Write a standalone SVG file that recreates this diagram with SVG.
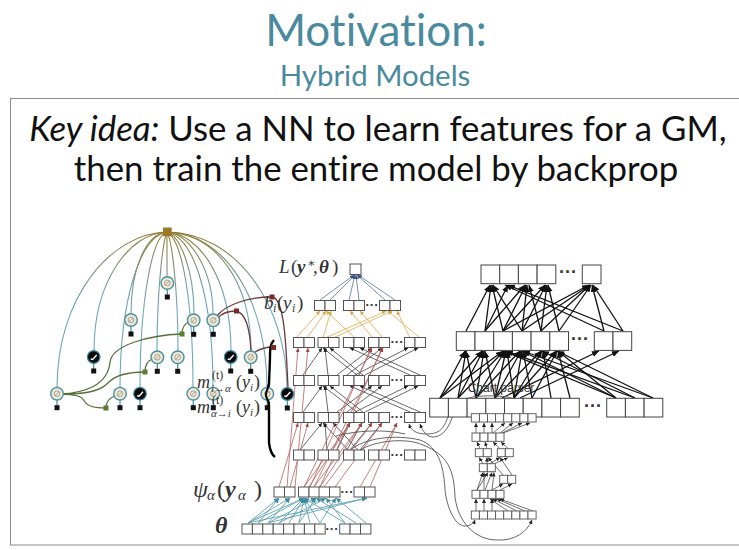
<svg xmlns="http://www.w3.org/2000/svg" width="739" height="550" viewBox="0 0 739 550">
<style>
.t{font-family:"Lato","Open Sans","Liberation Sans",sans-serif;fill:#4a8a9e;text-anchor:middle;font-variant-ligatures:none}
.b{font-family:"Lato","Open Sans","Liberation Sans",sans-serif;fill:#111;font-size:34.8px;text-anchor:middle;font-variant-ligatures:none}
.m{font-family:"Liberation Serif","DejaVu Serif",serif;font-style:italic;fill:#333}
.mb{font-weight:bold}
.d{font-family:"Liberation Sans",sans-serif;font-weight:bold;fill:#333;font-size:13px;text-anchor:middle}
.bx rect{fill:#fff;stroke:#555;stroke-width:1}
.rx rect{fill:#fff;stroke:#444;stroke-width:1}
.px rect{fill:#fff;stroke:#555;stroke-width:.9}
.hub path{fill:none;stroke:url(#hg);stroke-width:1.1}
.ol{fill:none;stroke:#56703a;stroke-width:1.3}
.rd{fill:none;stroke:#6b3a3a;stroke-width:1.3}
.sqo{fill:#5f7a35}.sqr{fill:#7a2a26}
.gold line{stroke:#e0b35a;stroke-width:.9;marker-end:url(#ag)}
.blue line{stroke:#6b80aa;stroke-width:.9;marker-end:url(#au)}
.blk line{stroke:#444;stroke-width:.8;marker-end:url(#ak)}
.red line{stroke:#b4615f;stroke-width:.8;marker-end:url(#ar)}
.teal line{stroke:#62a3b3;stroke-width:.9;marker-end:url(#at)}
.big line{stroke:#111;stroke-width:1.3;marker-end:url(#ab)}
.par line{stroke:#333;stroke-width:.7;marker-end:url(#ak)}
.crv path{fill:none;stroke:#555;stroke-width:.9}
.crv path.a{marker-end:url(#ak)}
</style>
<defs>
<linearGradient id="hg" gradientUnits="userSpaceOnUse" x1="0" y1="232" x2="0" y2="300"><stop offset="0" stop-color="#8f7d34"/><stop offset="1" stop-color="#6ca6b6"/></linearGradient>
<marker id="ag" markerUnits="userSpaceOnUse" markerWidth="5" markerHeight="5" refX="4" refY="2" orient="auto"><path d="M0,0L4,2L0,4Z" fill="#d9a63f"/></marker>
<marker id="au" markerUnits="userSpaceOnUse" markerWidth="5" markerHeight="5" refX="4" refY="2" orient="auto"><path d="M0,0L4,2L0,4Z" fill="#3f5486"/></marker>
<marker id="ak" markerUnits="userSpaceOnUse" markerWidth="5" markerHeight="5" refX="4" refY="2" orient="auto"><path d="M0,0L4,2L0,4Z" fill="#222"/></marker>
<marker id="ar" markerUnits="userSpaceOnUse" markerWidth="5" markerHeight="5" refX="4" refY="2" orient="auto"><path d="M0,0L4,2L0,4Z" fill="#a8423f"/></marker>
<marker id="at" markerUnits="userSpaceOnUse" markerWidth="6" markerHeight="6" refX="5" refY="2.500" orient="auto"><path d="M0,0L5,2.500L0,5Z" fill="#3f8ba0"/></marker>
<marker id="ab" markerUnits="userSpaceOnUse" markerWidth="8" markerHeight="8" refX="7" refY="3" orient="auto"><path d="M0,0L7,3L0,6Z" fill="#111"/></marker>
<g id="v"><line y1="6" y2="12" stroke="#3f8aa0" stroke-width="1.2"/><circle r="6.3" fill="#efe8d3" stroke="#4a90a5" stroke-width="1.4"/><circle r="2.8" fill="none" stroke="#888" stroke-width=".7"/><line x1="-2" y1="2" x2="2" y2="-2" stroke="#888" stroke-width=".7"/><rect x="-2.500" y="11.500" width="5" height="5" fill="#111"/></g>
<g id="c"><line y1="6" y2="12" stroke="#3f8aa0" stroke-width="1.2"/><circle r="6.3" fill="#0a0a0a" stroke="#3f8aa0" stroke-width="1.2"/><path d="M-3,2L-1,2.500L3,-2" fill="none" stroke="#fff" stroke-width="1.4"/><rect x="-2.500" y="11.500" width="5" height="5" fill="#111"/></g>
</defs>
<rect width="739" height="550" fill="#fff"/>
<rect id="frame" x="10.500" y="98.500" width="740" height="446.500" fill="none" stroke="#8a8a8a" stroke-width="1"/>
<g id="title">
<text class="t" x="376" y="46" font-size="44">Motivation:</text>
<text class="t" x="375" y="86" font-size="29.400">Hybrid Models</text>
</g>
<g id="body">
<text class="b" x="378" y="141"><tspan font-style="italic">Key idea:</tspan> Use a NN to learn features for a GM,</text>
<text class="b" x="376" y="181">then train the entire model by backprop</text>
</g>

<g id="connectors">
<g class="hub">
<path d="M167,232C112,233 57,296 57,388"/><path d="M167,232C130,233 94,280 94,351"/><path d="M167,232C145,234 131,270 131,314"/><path d="M167,232C140,236 120,300 120,388"/><path d="M167,232C152,236 140,300 140,388"/><path d="M167,232V277"/><path d="M167,232C163,240 157,290 157,351"/><path d="M167,232C172,240 178,290 178,351"/><path d="M167,232C180,236 194,270 194,314"/><path d="M167,232C182,240 193,300 193,388"/><path d="M167,232C190,234 213,270 213,314"/><path d="M167,232C195,238 213,300 213,388"/><path d="M167,232C200,234 231,280 231,351"/><path d="M167,232C215,234 251,280 251,351"/><path d="M167,232C225,233 267,300 267,388"/><path d="M167,232C240,233 287,310 287,388"/>
</g>
<path class="ol" d="M60,394C85,393 108,385 110,362C112,345 150,335 182,334"/>
<path class="ol" d="M60,394C85,394 100,392 109,382C116,375 130,372 145,372"/>
<path class="ol" d="M60,394C75,394 82,396 85,402C88,407 96,408 106,408"/>
<path class="ol" d="M182,334C182,328 184,324 189,322"/>
<path class="ol" d="M145,372C145,365 148,361 152,359"/>
<path class="ol" d="M106,408C106,402 109,398 115,396"/>
<path class="rd" d="M217,316C226,304 250,297 272,297"/>
<path class="rd" d="M218,318C222,313 228,311 236,311"/>
<path class="rd" d="M236,311C246,313 250,330 251,351"/>
<path class="rd" d="M272,297C284,298 286,340 288,388"/>
<path class="rd" d="M255,352C260,349 266,347 273,347"/>
<path d="M274,340C270,344 270,350 270,358L269,384C268,390 265,392 266,396C267,400 269,400 269,406V443C270,450 272,455 275,457" fill="none" stroke="#000" stroke-width="2.400"/>
<rect class="sqo" x="179.500" y="331.500" width="5" height="5"/><rect class="sqo" x="142.500" y="369.500" width="5" height="5"/><rect class="sqo" x="103.500" y="405.500" width="5" height="5"/>
<rect class="sqr" x="269.500" y="294.500" width="5" height="5"/><rect class="sqr" x="234" y="308.500" width="5" height="5"/><rect class="sqr" x="271" y="345" width="5" height="5"/>

<g class="blue"><line x1="320" y1="300" x2="354" y2="275"/><line x1="330" y1="300" x2="355" y2="275"/><line x1="349" y1="300" x2="355" y2="275"/><line x1="359" y1="300" x2="356" y2="275"/><line x1="385" y1="300" x2="357" y2="275"/><line x1="395" y1="300" x2="358" y2="275"/></g>
<g class="gold"><line x1="296" y1="338" x2="320" y2="311"/><line x1="307" y1="338" x2="326" y2="311"/><line x1="325" y1="338" x2="386" y2="311"/><line x1="333" y1="338" x2="392" y2="311"/><line x1="355" y1="338" x2="326" y2="311"/><line x1="373" y1="338" x2="350" y2="311"/><line x1="383" y1="338" x2="360" y2="311"/><line x1="410" y1="338" x2="397" y2="311"/><line x1="420" y1="338" x2="388" y2="311"/><line x1="323" y1="338" x2="331" y2="311"/></g>
<g class="blk">
<line x1="303" y1="375" x2="322" y2="348"/><line x1="328" y1="375" x2="325" y2="348"/><line x1="357" y1="375" x2="323" y2="348"/><line x1="363" y1="375" x2="330" y2="348"/><line x1="410" y1="375" x2="350" y2="348"/><line x1="420" y1="375" x2="360" y2="348"/><line x1="355" y1="375" x2="408" y2="348"/><line x1="365" y1="375" x2="418" y2="348"/><line x1="337" y1="375" x2="372" y2="348"/><line x1="347" y1="375" x2="382" y2="348"/>
<line x1="303" y1="412" x2="322" y2="386"/><line x1="328" y1="412" x2="325" y2="386"/><line x1="357" y1="412" x2="323" y2="386"/><line x1="363" y1="412" x2="330" y2="386"/><line x1="410" y1="412" x2="350" y2="386"/><line x1="420" y1="412" x2="360" y2="386"/><line x1="355" y1="412" x2="408" y2="386"/><line x1="365" y1="412" x2="418" y2="386"/><line x1="337" y1="412" x2="372" y2="386"/><line x1="347" y1="412" x2="382" y2="386"/>
<line x1="300" y1="450" x2="322" y2="423"/><line x1="327" y1="450" x2="325" y2="423"/><line x1="348" y1="450" x2="323" y2="423"/><line x1="358" y1="450" x2="333" y2="423"/><line x1="337" y1="450" x2="350" y2="423"/><line x1="347" y1="450" x2="362" y2="423"/><line x1="350" y1="450" x2="372" y2="423"/><line x1="360" y1="450" x2="382" y2="423"/>
</g>
<g class="red">
<line x1="279" y1="487" x2="298" y2="423"/><line x1="290" y1="487" x2="308" y2="423"/><line x1="287" y1="487" x2="298" y2="348"/><line x1="295" y1="487" x2="308" y2="348"/>
<line x1="304" y1="487" x2="350" y2="423"/><line x1="314" y1="487" x2="362" y2="423"/><line x1="324" y1="487" x2="372" y2="423"/><line x1="335" y1="487" x2="382" y2="423"/><line x1="309" y1="487" x2="350" y2="423"/><line x1="320" y1="487" x2="362" y2="423"/><line x1="360" y1="487" x2="397" y2="423"/><line x1="370" y1="487" x2="397" y2="423"/>
<line x1="304" y1="487" x2="372" y2="348"/><line x1="314" y1="487" x2="383" y2="348"/><line x1="310" y1="487" x2="371" y2="348"/><line x1="320" y1="487" x2="382" y2="348"/>
</g>
<g class="teal">
<line x1="248" y1="523" x2="279" y2="498"/><line x1="248" y1="523" x2="290" y2="498"/><line x1="248" y1="523" x2="304" y2="498"/><line x1="248" y1="523" x2="367" y2="498"/><line x1="258" y1="523" x2="279" y2="498"/><line x1="258" y1="523" x2="304" y2="498"/><line x1="268" y1="523" x2="290" y2="498"/><line x1="268" y1="523" x2="316" y2="498"/><line x1="268" y1="523" x2="367" y2="498"/><line x1="279" y1="523" x2="304" y2="498"/><line x1="279" y1="523" x2="326" y2="498"/><line x1="289" y1="523" x2="304" y2="498"/><line x1="299" y1="523" x2="304" y2="498"/><line x1="299" y1="523" x2="316" y2="498"/><line x1="310" y1="523" x2="304" y2="498"/><line x1="320" y1="523" x2="304" y2="498"/><line x1="320" y1="523" x2="336" y2="498"/><line x1="345" y1="523" x2="304" y2="498"/><line x1="345" y1="523" x2="326" y2="498"/><line x1="356" y1="523" x2="316" y2="498"/><line x1="366" y1="523" x2="336" y2="498"/>
</g>
<g class="big">
<line x1="466" y1="331" x2="490" y2="285"/><line x1="485" y1="331" x2="491" y2="285"/><line x1="485" y1="331" x2="508" y2="285"/><line x1="503" y1="331" x2="492" y2="285"/><line x1="522" y1="331" x2="493" y2="285"/><line x1="503" y1="331" x2="526" y2="285"/><line x1="522" y1="331" x2="527" y2="285"/><line x1="541" y1="331" x2="529" y2="285"/><line x1="485" y1="331" x2="525" y2="285"/><line x1="503" y1="331" x2="545" y2="285"/><line x1="522" y1="331" x2="546" y2="285"/><line x1="541" y1="331" x2="547" y2="285"/><line x1="559" y1="331" x2="548" y2="285"/><line x1="604" y1="331" x2="505" y2="285"/><line x1="623" y1="331" x2="508" y2="285"/><line x1="503" y1="331" x2="589" y2="285"/><line x1="522" y1="331" x2="590" y2="285"/><line x1="541" y1="331" x2="590" y2="285"/><line x1="559" y1="331" x2="591" y2="285"/><line x1="604" y1="331" x2="592" y2="285"/><line x1="623" y1="331" x2="593" y2="285"/>
<line x1="440" y1="398" x2="465" y2="351"/><line x1="458" y1="398" x2="466" y2="351"/><line x1="476" y1="398" x2="466" y2="351"/><line x1="440" y1="398" x2="482" y2="351"/><line x1="458" y1="398" x2="483" y2="351"/><line x1="476" y1="398" x2="484" y2="351"/><line x1="495" y1="398" x2="485" y2="351"/><line x1="440" y1="398" x2="503" y2="351"/><line x1="458" y1="398" x2="504" y2="351"/><line x1="476" y1="398" x2="505" y2="351"/><line x1="495" y1="398" x2="506" y2="351"/><line x1="514" y1="398" x2="507" y2="351"/><line x1="476" y1="398" x2="520" y2="351"/><line x1="495" y1="398" x2="521" y2="351"/><line x1="514" y1="398" x2="522" y2="351"/><line x1="532" y1="398" x2="523" y2="351"/><line x1="495" y1="398" x2="541" y2="351"/><line x1="514" y1="398" x2="542" y2="351"/><line x1="551" y1="398" x2="543" y2="351"/><line x1="514" y1="398" x2="556" y2="351"/><line x1="532" y1="398" x2="557" y2="351"/><line x1="570" y1="398" x2="558" y2="351"/><line x1="616" y1="398" x2="504" y2="351"/><line x1="616" y1="398" x2="522" y2="351"/><line x1="635" y1="398" x2="506" y2="351"/><line x1="635" y1="398" x2="542" y2="351"/><line x1="653" y1="398" x2="523" y2="351"/><line x1="653" y1="398" x2="557" y2="351"/><line x1="616" y1="398" x2="558" y2="351"/><line x1="502" y1="398" x2="599" y2="351"/><line x1="520" y1="398" x2="619" y2="351"/>
</g>
<g class="par">
<line x1="476" y1="433" x2="476" y2="423"/><line x1="484" y1="433" x2="484" y2="423"/><line x1="492" y1="433" x2="492" y2="423"/><line x1="493" y1="433" x2="505" y2="423"/><line x1="500" y1="433" x2="513" y2="423"/><line x1="502" y1="433" x2="522" y2="423"/><line x1="503" y1="433" x2="530" y2="423"/>
<line x1="480" y1="448.500" x2="477" y2="442"/><line x1="487" y1="448.500" x2="485" y2="442"/><line x1="500" y1="448.500" x2="493" y2="442"/><line x1="508" y1="448.500" x2="501" y2="442"/>
<line x1="483" y1="463.500" x2="479" y2="457.500"/><line x1="487" y1="463.500" x2="487" y2="457.500"/><line x1="490" y1="463.500" x2="500" y2="457.500"/><line x1="495" y1="463.500" x2="508" y2="457.500"/><line x1="503" y1="475" x2="488" y2="457.500"/><line x1="512" y1="475" x2="500" y2="457.500"/>
<line x1="477" y1="490" x2="483" y2="472.500"/><line x1="477" y1="490" x2="488" y2="472.500"/><line x1="484" y1="490" x2="484" y2="472.500"/><line x1="485" y1="490" x2="492" y2="472.500"/><line x1="492" y1="490" x2="494" y2="472.500"/><line x1="492" y1="490" x2="503" y2="484"/><line x1="500" y1="490" x2="512" y2="484"/>
<line x1="476" y1="511" x2="476" y2="499"/><line x1="484" y1="511" x2="484" y2="499"/><line x1="492" y1="511" x2="492" y2="499"/><line x1="533" y1="511" x2="500" y2="499"/><line x1="525" y1="511" x2="497" y2="499"/><line x1="517" y1="511" x2="493" y2="499"/><line x1="508" y1="511" x2="490" y2="499"/>
</g>
<g class="crv">
<path d="M472,413C466,405 455,405 450,413C445,420 446,434 427,434C415,434 411,430 409,424" class="a"/>
<path d="M533,414C526,398 505,395 483,396C462,397 458,402 452,418C447,432 440,437 433,437C427,437 423,432 420,424" class="a"/>
<path d="M350,450C365,438 395,434 420,440C440,447 444,470 445,490C447,508 455,526 465,526C470,526 474,523 475,520" class="a"/>
<path d="M360,450C375,441 405,437 423,445C448,455 454,470 455,497C458,522 475,540 497,540C515,541 527,532 532,520" class="a"/>
<path d="M336,436C350,432 380,428 405,434"/>
</g>
</g>

<g id="middle-network">
<g id="loss" class="bx"><rect x="350" y="264" width="11" height="10.500"/></g>
<g id="row-b" class="bx"><rect x="314.500" y="300.500" width="10.500" height="10"/><rect x="325" y="300.500" width="10.500" height="10"/><rect x="343.500" y="300.500" width="10.500" height="10"/><rect x="354" y="300.500" width="10.500" height="10"/><rect x="379.500" y="300.500" width="10.500" height="10"/><rect x="390" y="300.500" width="10.500" height="10"/></g>
<g id="row-1" class="bx"><rect x="293.500" y="337.500" width="10.500" height="10"/><rect x="304" y="337.500" width="10.500" height="10"/><rect x="318" y="337.500" width="10.500" height="10"/><rect x="328.500" y="337.500" width="10.500" height="10"/><rect x="343.500" y="337.500" width="10.500" height="10"/><rect x="354" y="337.500" width="10.500" height="10"/><rect x="368.500" y="337.500" width="10.500" height="10"/><rect x="379" y="337.500" width="10.500" height="10"/><rect x="404.500" y="337.500" width="10.500" height="10"/><rect x="415" y="337.500" width="10.500" height="10"/></g>
<g id="row-2" class="bx"><rect x="293.500" y="375.500" width="10.500" height="10"/><rect x="304" y="375.500" width="10.500" height="10"/><rect x="318" y="375.500" width="10.500" height="10"/><rect x="328.500" y="375.500" width="10.500" height="10"/><rect x="343.500" y="375.500" width="10.500" height="10"/><rect x="354" y="375.500" width="10.500" height="10"/><rect x="368.500" y="375.500" width="10.500" height="10"/><rect x="379" y="375.500" width="10.500" height="10"/><rect x="404.500" y="375.500" width="10.500" height="10"/><rect x="415" y="375.500" width="10.500" height="10"/></g>
<g id="row-3" class="bx"><rect x="293.500" y="412.500" width="10.500" height="10"/><rect x="304" y="412.500" width="10.500" height="10"/><rect x="318" y="412.500" width="10.500" height="10"/><rect x="328.500" y="412.500" width="10.500" height="10"/><rect x="343.500" y="412.500" width="10.500" height="10"/><rect x="354" y="412.500" width="10.500" height="10"/><rect x="368.500" y="412.500" width="10.500" height="10"/><rect x="379" y="412.500" width="10.500" height="10"/><rect x="404.500" y="412.500" width="10.500" height="10"/><rect x="415" y="412.500" width="10.500" height="10"/></g>
<g id="row-4" class="bx"><rect x="293.500" y="450" width="10.500" height="10"/><rect x="304" y="450" width="10.500" height="10"/><rect x="318" y="450" width="10.500" height="10"/><rect x="328.500" y="450" width="10.500" height="10"/><rect x="343.500" y="450" width="10.500" height="10"/><rect x="354" y="450" width="10.500" height="10"/><rect x="368.500" y="450" width="10.500" height="10"/><rect x="379" y="450" width="10.500" height="10"/><rect x="404.500" y="450" width="10.500" height="10"/><rect x="415" y="450" width="10.500" height="10"/></g>
<g id="psi-row" class="bx"><rect x="274" y="487" width="10.500" height="10"/><rect x="284.500" y="487" width="10.500" height="10"/><rect x="298.500" y="487" width="10.500" height="10"/><rect x="309" y="487" width="10.500" height="10"/><rect x="319" y="487" width="10.500" height="10"/><rect x="329.500" y="487" width="10.500" height="10"/><rect x="354" y="487" width="10.500" height="10"/><rect x="364.500" y="487" width="10.500" height="10"/></g>
<g id="theta-row" class="bx"><rect x="242" y="524" width="10.400" height="10"/><rect x="252.400" y="524" width="10.400" height="10"/><rect x="262.800" y="524" width="10.400" height="10"/><rect x="273.200" y="524" width="10.400" height="10"/><rect x="283.600" y="524" width="10.400" height="10"/><rect x="294" y="524" width="10.400" height="10"/><rect x="304.400" y="524" width="10.400" height="10"/><rect x="314.800" y="524" width="10.400" height="10"/><rect x="339.700" y="524" width="10.400" height="10"/><rect x="350.100" y="524" width="10.400" height="10"/><rect x="360.500" y="524" width="10.400" height="10"/></g>
<g id="dots-mid"><text class="d" x="372" y="309">···</text><text class="d" x="397" y="346">···</text><text class="d" x="397" y="384">···</text><text class="d" x="397" y="421">···</text><text class="d" x="397" y="459">···</text><text class="d" x="347" y="496">···</text><text class="d" x="332" y="533">···</text></g>
</g>

<g id="right-network">
<g id="r-top" class="rx"><rect x="481" y="265" width="18.700" height="18.700"/><rect x="499.700" y="265" width="18.700" height="18.700"/><rect x="518.400" y="265" width="18.700" height="18.700"/><rect x="537.100" y="265" width="18.700" height="18.700"/><rect x="582.300" y="265" width="18.700" height="18.700"/></g>
<g id="r-mid" class="rx"><rect x="456.300" y="331.700" width="18.700" height="18.700"/><rect x="475" y="331.700" width="18.700" height="18.700"/><rect x="493.700" y="331.700" width="18.700" height="18.700"/><rect x="512.400" y="331.700" width="18.700" height="18.700"/><rect x="531.100" y="331.700" width="18.700" height="18.700"/><rect x="549.800" y="331.700" width="18.700" height="18.700"/><rect x="594.300" y="331.700" width="18.700" height="18.700"/><rect x="613" y="331.700" width="18.700" height="18.700"/></g>
<g id="r-bot" class="rx"><rect x="429.700" y="398.300" width="18.700" height="18.700"/><rect x="448.400" y="398.300" width="18.700" height="18.700"/><rect x="467.100" y="398.300" width="18.700" height="18.700"/><rect x="485.800" y="398.300" width="18.700" height="18.700"/><rect x="504.500" y="398.300" width="18.700" height="18.700"/><rect x="523.200" y="398.300" width="18.700" height="18.700"/><rect x="541.900" y="398.300" width="18.700" height="18.700"/><rect x="560.600" y="398.300" width="18.700" height="18.700"/><rect x="606.700" y="398.300" width="18.700" height="18.700"/><rect x="625.400" y="398.300" width="18.700" height="18.700"/><rect x="644.100" y="398.300" width="18.700" height="18.700"/></g>
<g id="dots-right"><text class="d" x="568" y="278" style="font-size:18px">···</text><text class="d" x="580" y="345" style="font-size:18px">···</text><text class="d" x="593" y="412" style="font-size:18px">···</text></g>
<text id="chart-parser" x="501" y="392" font-family="Liberation Sans,sans-serif" font-size="12" fill="#333" text-anchor="middle">Chart parser</text>
</g>

<g id="parser-network">
<g id="p1" class="px"><rect x="471.300" y="413.700" width="8.100" height="8.300"/><rect x="479.400" y="413.700" width="8.100" height="8.300"/><rect x="487.500" y="413.700" width="8.100" height="8.300"/><rect x="495.600" y="413.700" width="8.100" height="8.300"/><rect x="503.700" y="413.700" width="8.100" height="8.300"/><rect x="511.800" y="413.700" width="8.100" height="8.300"/><rect x="519.900" y="413.700" width="8.100" height="8.300"/><rect x="528" y="413.700" width="8.100" height="8.300"/></g>
<g id="p2" class="px"><rect x="472" y="433" width="8" height="8.300"/><rect x="480" y="433" width="8" height="8.300"/><rect x="488" y="433" width="8" height="8.300"/><rect x="496" y="433" width="8" height="8.300"/></g>
<g id="p3" class="px"><rect x="475.300" y="448.700" width="8" height="8"/><rect x="483.300" y="448.700" width="8" height="8"/><rect x="497.300" y="448.700" width="8" height="8"/><rect x="505.300" y="448.700" width="8" height="8"/></g>
<g id="p4" class="px"><rect x="479.300" y="463.700" width="8" height="8"/><rect x="487.300" y="463.700" width="8" height="8"/></g>
<g id="p5" class="px"><rect x="499.700" y="475.300" width="8" height="8"/><rect x="507.700" y="475.300" width="8" height="8"/></g>
<g id="p6" class="px"><rect x="472" y="490.300" width="8" height="8"/><rect x="480" y="490.300" width="8" height="8"/><rect x="488" y="490.300" width="8" height="8"/><rect x="496" y="490.300" width="8" height="8"/></g>
<g id="p7" class="px"><rect x="471.300" y="511" width="8.100" height="8"/><rect x="479.400" y="511" width="8.100" height="8"/><rect x="487.500" y="511" width="8.100" height="8"/><rect x="495.600" y="511" width="8.100" height="8"/><rect x="503.700" y="511" width="8.100" height="8"/><rect x="511.800" y="511" width="8.100" height="8"/><rect x="519.900" y="511" width="8.100" height="8"/><rect x="528" y="511" width="8.100" height="8"/></g>
</g>

<g id="factor-hub"><rect x="163" y="227.500" width="8.700" height="8.700" fill="#9a7a25"/></g>
<g id="n1"><use href="#v" x="167.300" y="283"/></g>
<g id="n2"><use href="#v" x="131" y="320"/></g>
<g id="n3"><use href="#v" x="193.700" y="320.300"/></g>
<g id="n4"><use href="#v" x="213.300" y="320.300"/></g>
<g id="n5"><use href="#c" x="93.700" y="357"/></g>
<g id="n6"><use href="#v" x="157.300" y="357.300"/></g>
<g id="n7"><use href="#v" x="177.700" y="357.300"/></g>
<g id="n8"><use href="#c" x="230.700" y="357"/></g>
<g id="n9"><use href="#v" x="250.700" y="357.300"/></g>
<g id="n10"><use href="#v" x="57" y="393.700"/></g>
<g id="n11"><use href="#v" x="120" y="393.700"/></g>
<g id="n12"><use href="#c" x="140" y="393.700"/></g>
<g id="n13"><use href="#v" x="193.300" y="393.700"/></g>
<g id="n14"><use href="#v" x="213.300" y="393.700"/></g>
<g id="n15"><use href="#v" x="267.300" y="393.700"/></g>
<g id="n16"><use href="#c" x="287.300" y="394"/></g>
<path d="M269,384C268,390 265,392 266,396C267,400 269,400 269,406" stroke="#000" stroke-width="2" fill="none"/>

<g id="labels">
<text class="m" y="273" font-size="19"><tspan x="279">L</tspan><tspan font-style="normal" x="291">(</tspan><tspan class="mb" x="297">y</tspan><tspan font-style="normal" font-size="12" x="307" y="267">∗</tspan><tspan font-style="normal" x="313" y="273">,</tspan><tspan class="mb" x="319">θ</tspan><tspan font-style="normal" x="332">)</tspan></text>
<text class="m" y="309" font-size="19"><tspan x="264">b</tspan><tspan font-size="12" x="273" y="312">i</tspan><tspan font-style="normal" x="277" y="309">(</tspan><tspan x="283">y</tspan><tspan font-size="12" x="292" y="312">i</tspan><tspan font-style="normal" x="297" y="309">)</tspan></text>
<text class="m" y="388" font-size="18"><tspan x="197">m</tspan><tspan font-style="normal" font-size="12" x="212" y="379">(t)</tspan><tspan font-size="11" x="211" y="392">i→α</tspan><tspan font-style="normal" x="236" y="388">(</tspan><tspan x="242">y</tspan><tspan font-size="11" x="250" y="391">i</tspan><tspan font-style="normal" x="254" y="388">)</tspan></text>
<text class="m" y="413" font-size="18"><tspan x="197">m</tspan><tspan font-style="normal" font-size="12" x="212" y="404">(t)</tspan><tspan font-size="11" x="211" y="417">α→i</tspan><tspan font-style="normal" x="236" y="413">(</tspan><tspan x="242">y</tspan><tspan font-size="11" x="250" y="416">i</tspan><tspan font-style="normal" x="254" y="413">)</tspan></text>
<text class="m" y="497" font-size="24"><tspan x="193">ψ</tspan><tspan font-size="15" x="207" y="500">α</tspan><tspan font-style="normal" x="217" y="497">(</tspan><tspan class="mb" x="225">y</tspan><tspan font-size="15" x="238" y="500">α</tspan><tspan font-style="normal" x="254" y="497">)</tspan></text>
<text class="m mb" x="215" y="533" font-size="24">θ</text>
</g>
</svg>
